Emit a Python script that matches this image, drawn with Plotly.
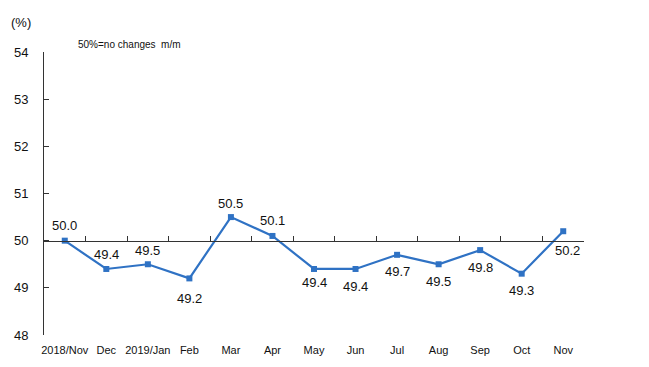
import plotly.graph_objects as go

categories = ["2018/Nov", "Dec", "2019/Jan", "Feb", "Mar", "Apr", "May", "Jun", "Jul", "Aug", "Sep", "Oct", "Nov"]
values = [50.0, 49.4, 49.5, 49.2, 50.5, 50.1, 49.4, 49.4, 49.7, 49.5, 49.8, 49.3, 50.2]
label_dy = [15, 14, 14, -20, 14, 15, -14, -18, -17, -17, -17, -17, -19]
label_dx = [0, 0, 0, 0, 0, 0, 0, 0, 0, 0, 0, 0, 4]
y_ticks = [48, 49, 50, 51, 52, 53, 54]

color = "#2f72c4"
fig = go.Figure()
fig.add_trace(go.Scatter(
    x=categories, y=values, mode="lines+markers",
    line=dict(color=color, width=2.2),
    marker=dict(symbol="square", size=6, color=color),
    cliponaxis=False, showlegend=False, xaxis="x", yaxis="y"))
# invisible trace for the crossing axis at 50
fig.add_trace(go.Scatter(x=categories, y=values, mode="markers", marker=dict(opacity=0),
                         showlegend=False, hoverinfo="skip", xaxis="x2", yaxis="y"))

annotations = [
    dict(text=f"{v:.1f}", x=c, y=v, xref="x", yref="y", showarrow=False,
         xanchor="center", yanchor="middle", yshift=dy, xshift=dx,
         font=dict(family="Liberation Sans, Arial", size=13, color="#111111"))
    for c, v, dy, dx in zip(categories, values, label_dy, label_dx)
]
annotations += [
    dict(text="(%)", xref="paper", yref="paper", x=-0.02, y=1.106, xanchor="right", yanchor="middle",
         showarrow=False, font=dict(family="Liberation Sans, Arial", size=13, color="#111111")),
    dict(text="50%=no changes  m/m", xref="paper", yref="paper", x=0.06, y=1.025, xanchor="left", yanchor="middle",
         showarrow=False, font=dict(family="Liberation Sans Narrow, Arial Narrow, Liberation Sans", size=10, color="#111111")),
]

fig.update_layout(
    width=641, height=359,
    margin=dict(l=36, r=65, t=44, b=32),
    paper_bgcolor="white", plot_bgcolor="white",
    xaxis=dict(type="category", showline=False, ticks="", showgrid=False, automargin=False,
               tickfont=dict(family="Liberation Sans Narrow, Arial Narrow, Liberation Sans", size=11, color="#111111"),
               range=[-0.5, 12.5], domain=[0, 1], ticklabelstandoff=7),
    xaxis2=dict(type="category", overlaying="x", anchor="free", position=(50 - 48) / (54 - 48),
                side="bottom", showline=True, linecolor="#333333", linewidth=1, automargin=False,
                ticks="inside", tickson="boundaries", ticklen=5, tickcolor="#333333",
                showticklabels=False, showgrid=False, range=[-0.5, 12.5]),
    yaxis=dict(range=[48, 54], tickvals=y_ticks, showline=True, linecolor="#333333", linewidth=1,
               ticks="inside", ticklen=5, tickcolor="#333333", showgrid=False, zeroline=False, automargin=False,
               tickfont=dict(family="Liberation Sans, Arial", size=13, color="#111111"), ticklabelstandoff=12),
    annotations=annotations,
)
fig.write_html("out.html")
